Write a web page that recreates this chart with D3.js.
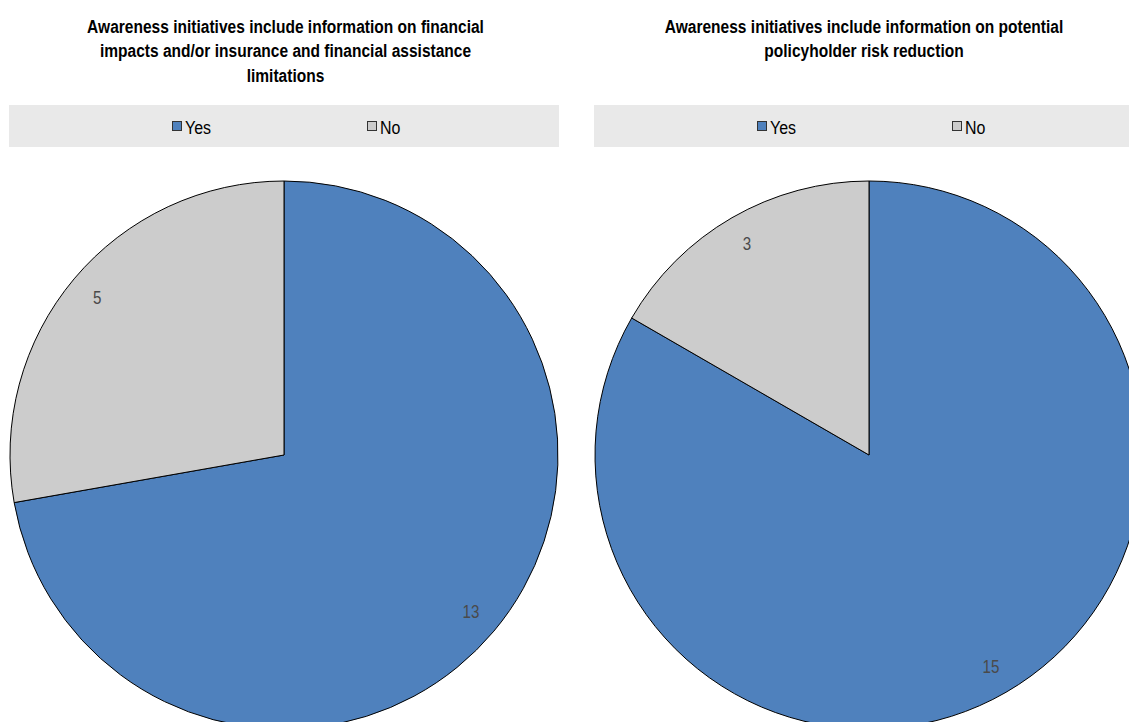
<!DOCTYPE html>
<html><head><meta charset="utf-8">
<script src="https://cdn.jsdelivr.net/npm/d3@7"></script>
<style>body{margin:0;background:#fff}svg{display:block}</style>
</head><body><svg id="c" width="1129" height="722"></svg>
<script>
const categories = ["Yes", "No"];
const titles = [
  ["Awareness initiatives include information on financial", "impacts and/or insurance and financial assistance", "limitations"],
  ["Awareness initiatives include information on potential", "policyholder risk reduction"]
];
const valuesLeft = [13, 5];
const valuesRight = [15, 3];
const colors = ["#4f81bd", "#cccccc"];

const svg = d3.select("#c");
const font = "'Liberation Sans', Arial, sans-serif";
const SX = 0.84; // narrow-font emulation
const panels = [
  {cx: 284, tx: 285.5, values: valuesLeft, title: titles[0]},
  {cx: 869, tx: 864, values: valuesRight, title: titles[1]}
];
const cy = 455, R = 274;
const color = d3.scaleOrdinal().domain(categories).range(colors);
const pie = d3.pie().sort(null).value(d => d.v);
const arc = d3.arc().innerRadius(0).outerRadius(R);
const labelArc = d3.arc().innerRadius(244).outerRadius(244);

function narrowText(parent, x, y) {
  return parent.append("g").attr("transform", `translate(${x},${y}) scale(${SX},1)`)
    .append("text").attr("font-family", font);
}

panels.forEach(p => {
  const g = svg.append("g");
  p.title.forEach((line, i) => {
    narrowText(g, p.tx, 32.5 + i * 24.5)
      .attr("text-anchor", "middle").attr("font-weight", "bold")
      .attr("font-size", 18.5).attr("fill", "#000").text(line);
  });
  g.append("rect").attr("x", p.cx - 275).attr("y", 105).attr("width", 550).attr("height", 42).attr("fill", "#e9e9e9");
  const legOff = [-112, 83];
  categories.forEach((c, i) => {
    g.append("rect").attr("x", p.cx + legOff[i] + 0.5).attr("y", 121.5).attr("width", 9).attr("height", 9)
      .attr("fill", color(c)).attr("stroke", "#333").attr("stroke-width", 1);
    narrowText(g, p.cx + legOff[i] + 13, 134)
      .attr("font-size", 19).attr("fill", "#000").text(c);
  });
  const data = categories.map((c, i) => ({c, v: p.values[i]}));
  const pg = g.append("g").attr("transform", `translate(${p.cx},${cy})`);
  const arcs = pie(data);
  pg.selectAll("path").data(arcs).join("path")
    .attr("d", arc).attr("fill", d => color(d.data.c))
    .attr("stroke", "#000").attr("stroke-width", 1);
  arcs.forEach(d => {
    const [lx, ly] = labelArc.centroid(d);
    narrowText(pg, lx, ly)
      .attr("text-anchor", "middle").attr("dy", "0.35em")
      .attr("font-size", 18).attr("fill", "#4a4a4a").text(d.data.v);
  });
});
</script></body></html>
